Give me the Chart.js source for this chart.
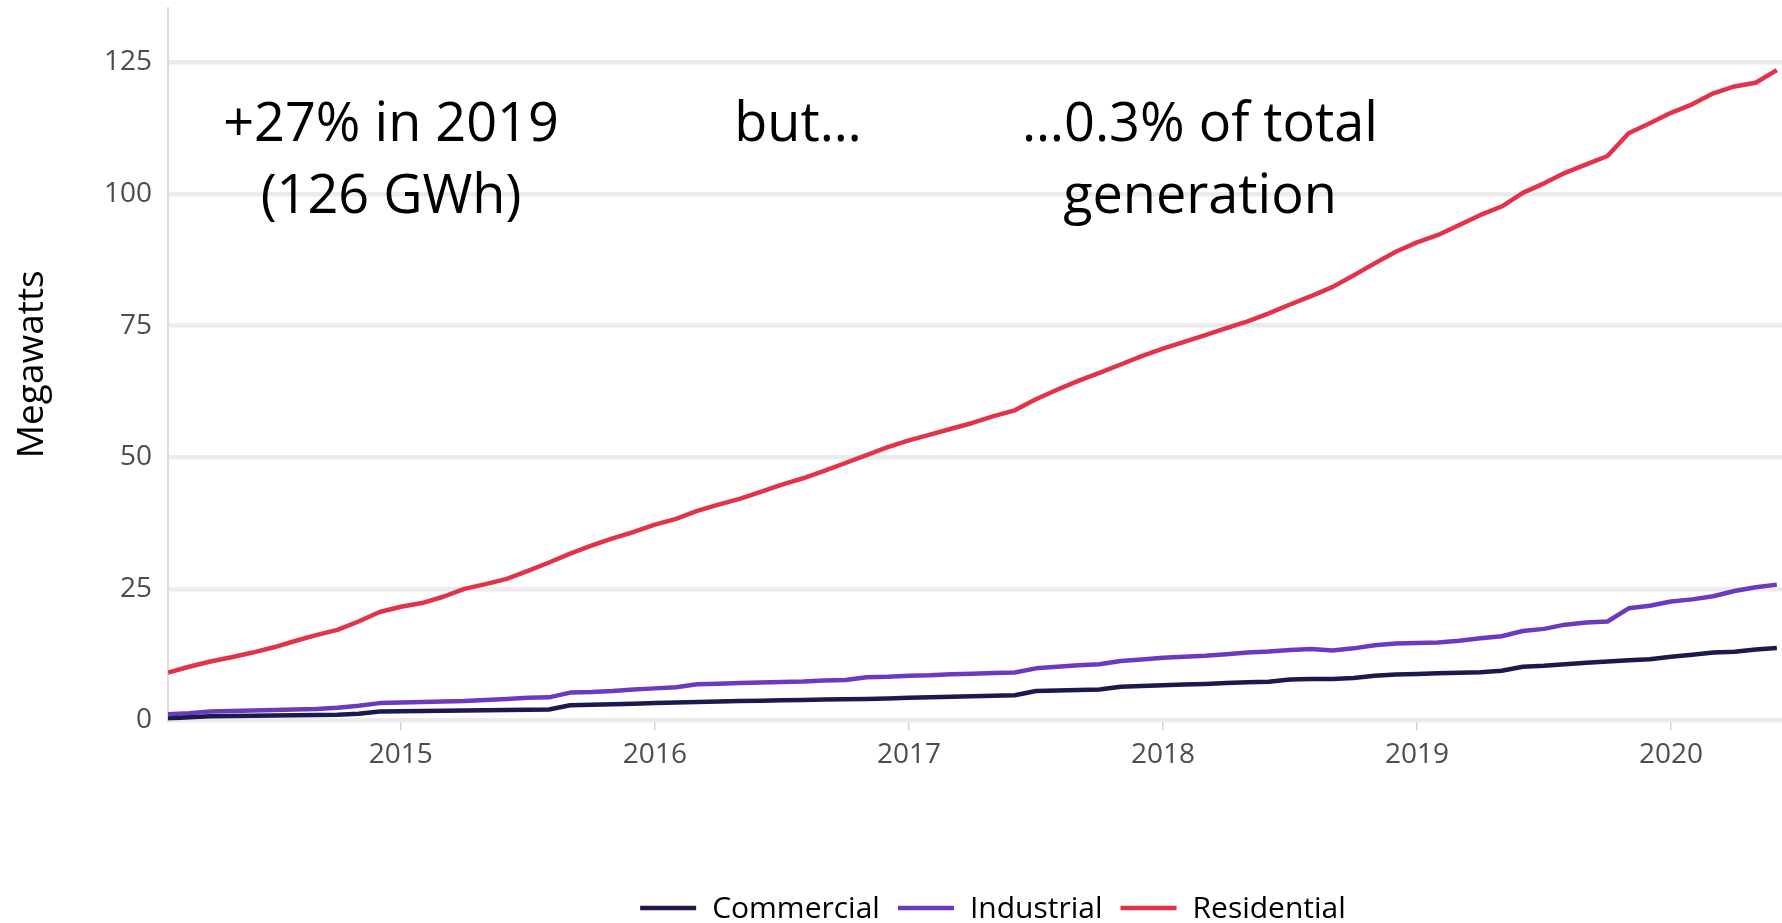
<!DOCTYPE html>
<html>
<head>
<meta charset="utf-8">
<script src="https://cdn.jsdelivr.net/npm/chart.js@4.4.1/dist/chart.umd.min.js"></script>
<style>
  html, body { margin: 0; padding: 0; background: #fff; }
  canvas { display: block; }
</style>
</head>
<body>
<canvas id="grafico" width="1782" height="923"></canvas>
<script>
// monthly installed capacity, MW
const months = [
  '2014-02', '2014-03', '2014-04', '2014-05', '2014-06', '2014-07', '2014-08', '2014-09', '2014-10', '2014-11', '2014-12',
  '2015-01', '2015-02', '2015-03', '2015-04', '2015-05', '2015-06', '2015-07', '2015-08', '2015-09', '2015-10', '2015-11', '2015-12',
  '2016-01', '2016-02', '2016-03', '2016-04', '2016-05', '2016-06', '2016-07', '2016-08', '2016-09', '2016-10', '2016-11', '2016-12',
  '2017-01', '2017-02', '2017-03', '2017-04', '2017-05', '2017-06', '2017-07', '2017-08', '2017-09', '2017-10', '2017-11', '2017-12',
  '2018-01', '2018-02', '2018-03', '2018-04', '2018-05', '2018-06', '2018-07', '2018-08', '2018-09', '2018-10', '2018-11', '2018-12',
  '2019-01', '2019-02', '2019-03', '2019-04', '2019-05', '2019-06', '2019-07', '2019-08', '2019-09', '2019-10', '2019-11', '2019-12',
  '2020-01', '2020-02', '2020-03', '2020-04', '2020-05', '2020-06'
];
const commercial = [
  0.4, 0.6, 0.8, 0.85, 0.9, 0.95, 1.0, 1.05, 1.1, 1.3, 1.7,
  1.75, 1.8, 1.85, 1.9, 1.95, 2.0, 2.05, 2.1, 2.9, 3.0, 3.1, 3.2,
  3.3, 3.4, 3.5, 3.6, 3.7, 3.75, 3.85, 3.9, 4.0, 4.05, 4.1, 4.2,
  4.3, 4.4, 4.5, 4.6, 4.7, 4.8, 5.6, 5.7, 5.8, 5.9, 6.4, 6.55,
  6.7, 6.85, 6.95, 7.1, 7.25, 7.35, 7.8, 7.9, 7.9, 8.05, 8.5, 8.75,
  8.85, 8.95, 9.05, 9.15, 9.45, 10.2, 10.4, 10.7, 10.95, 11.2, 11.45, 11.65,
  12.1, 12.5, 12.9, 13.05, 13.5, 13.75
];
const industrial = [
  1.2, 1.4, 1.7, 1.8, 1.9, 2.0, 2.1, 2.2, 2.4, 2.8, 3.3,
  3.4, 3.5, 3.6, 3.7, 3.9, 4.1, 4.3, 4.4, 5.3, 5.4, 5.6, 5.9,
  6.1, 6.3, 6.9, 7.0, 7.1, 7.2, 7.3, 7.4, 7.6, 7.7, 8.2, 8.3,
  8.5, 8.6, 8.8, 8.9, 9.0, 9.1, 9.9, 10.2, 10.5, 10.7, 11.3, 11.6,
  11.9, 12.1, 12.3, 12.6, 12.9, 13.1, 13.4, 13.6, 13.3, 13.7, 14.3, 14.6,
  14.7, 14.8, 15.15, 15.6, 16.0, 17.0, 17.4, 18.2, 18.6, 18.8, 21.3, 21.8,
  22.6, 23.0, 23.6, 24.6, 25.3, 25.8
];
const residential = [
  9.1, 10.2, 11.2, 12.0, 12.9, 13.9, 15.1, 16.2, 17.2, 18.8, 20.6,
  21.6, 22.3, 23.5, 25.0, 25.9, 26.9, 28.4, 30.0, 31.7, 33.2, 34.6, 35.8,
  37.2, 38.3, 39.8, 41.0, 42.1, 43.4, 44.8, 46.0, 47.4, 48.9, 50.4, 51.9,
  53.2, 54.3, 55.4, 56.5, 57.8, 58.9, 61.0, 62.8, 64.5, 66.0, 67.6, 69.2,
  70.6, 71.9, 73.2, 74.5, 75.8, 77.3, 79.0, 80.6, 82.3, 84.5, 86.8, 89.0,
  90.8, 92.2, 94.1, 96.0, 97.6, 100.2, 102.0, 104.0, 105.6, 107.2, 111.5, 113.4,
  115.4, 117.0, 119.1, 120.4, 121.1, 123.5
];
const yearTicks = [2015, 2016, 2017, 2018, 2019, 2020];
const valueTicks = [0, 25, 50, 75, 100, 125];
const seriesNames = ['Commercial', 'Industrial', 'Residential'];
const notes = [
  ['+27% in 2019', '(126 GWh)'],
  ['but…'],
  ['…0.3% of total', 'generation']
];

const toYear = m => Number(m.slice(0, 4)) + (Number(m.slice(5, 7)) - 1) / 12;
const points = arr => months.map((m, i) => ({ x: toYear(m), y: arr[i] }));

const tickFont = { family: 'Open Sans', size: 28 };

// big annotation texts over the plot
const notesPlugin = {
  id: 'notes',
  afterDraw(chart) {
    const ctx = chart.ctx;
    const centers = [391, 798, 1200];
    ctx.save();
    ctx.fillStyle = '#000';
    ctx.font = '54px "Open Sans"';
    ctx.textAlign = 'center';
    ctx.textBaseline = 'alphabetic';
    notes.forEach((lines, i) => {
      lines.forEach((t, j) => ctx.fillText(t, centers[i], 141 + j * 72));
    });
    ctx.restore();
  }
};

// legend drawn under the axis, line swatches like ggplot
const legendPlugin = {
  id: 'bottomLegend',
  afterDraw(chart) {
    const ctx = chart.ctx;
    const swatch = 56, gap = 16, between = 18, y = 908;
    ctx.save();
    ctx.font = '30px "Open Sans"';
    const items = chart.data.datasets.map(ds => ({
      label: ds.label, color: ds.borderColor, w: ctx.measureText(ds.label).width
    }));
    const total = items.reduce((s, it) => s + swatch + gap + it.w, 0) + between * (items.length - 1);
    let x = 993 - total / 2;
    ctx.textBaseline = 'middle';
    ctx.textAlign = 'left';
    items.forEach(it => {
      ctx.strokeStyle = it.color;
      ctx.lineWidth = 4.5;
      ctx.beginPath();
      ctx.moveTo(x, y);
      ctx.lineTo(x + swatch, y);
      ctx.stroke();
      ctx.fillStyle = '#000';
      ctx.fillText(it.label, x + swatch + gap, y + 1);
      x += swatch + gap + it.w + between;
    });
    ctx.restore();
  }
};

const config = {
  type: 'line',
  data: {
    datasets: [
      { label: seriesNames[0], data: points(commercial), borderColor: '#1b1a4e' },
      { label: seriesNames[1], data: points(industrial), borderColor: '#6c3abf' },
      { label: seriesNames[2], data: points(residential), borderColor: '#e2334b' }
    ]
  },
  options: {
    responsive: false,
    animation: false,
    devicePixelRatio: 1,
    layout: { padding: { top: 8, left: 0, right: 0, bottom: 0 } },
    elements: {
      point: { radius: 0 },
      line: { borderWidth: 4.5, tension: 0, fill: false, borderJoinStyle: 'round' }
    },
    plugins: {
      legend: { display: false },
      tooltip: { enabled: false }
    },
    scales: {
      x: {
        type: 'linear',
        min: toYear('2014-02'),
        max: 2020.437,
        afterBuildTicks: s => { s.ticks = yearTicks.map(v => ({ value: v })); },
        afterFit: s => { s.height = 923 - 720.5; s.paddingLeft = 0; s.paddingRight = 0; },
        border: { display: false },
        grid: { drawOnChartArea: false, drawTicks: true, tickLength: 10, color: '#d4d4d4', lineWidth: 1.5 },
        ticks: { font: tickFont, color: '#4d4d4d', padding: 8, maxRotation: 0, callback: v => String(v) }
      },
      y: {
        min: 0,
        max: 135.3,
        afterBuildTicks: s => { s.ticks = valueTicks.map(v => ({ value: v })); },
        afterFit: s => { s.width = 168; s.paddingTop = 0; s.paddingBottom = 0; },
        border: { display: true, color: '#dcdcdc', width: 2 },
        grid: { color: '#ebebeb', lineWidth: 4.5, drawTicks: false },
        ticks: { font: tickFont, color: '#4d4d4d', padding: 16, callback: v => String(v) },
        title: {
          display: true,
          text: 'Megawatts',
          color: '#000',
          font: { family: 'Open Sans', size: 37 },
          padding: { top: 10, bottom: 0 }
        }
      }
    }
  },
  plugins: [notesPlugin, legendPlugin]
};

const myChart = new Chart(document.getElementById('grafico'), config);
</script>
</body>
</html>
